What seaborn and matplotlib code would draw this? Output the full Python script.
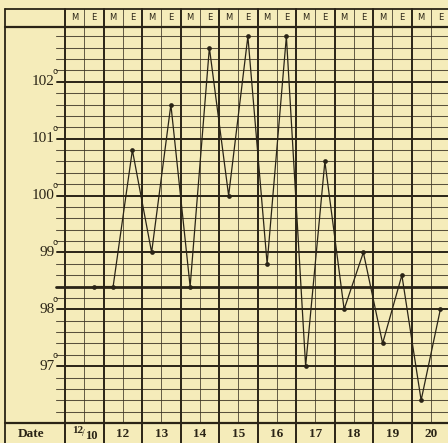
import numpy as np
import pandas as pd
import matplotlib
matplotlib.use("Agg")
import matplotlib.pyplot as plt
import seaborn as sns

# ---- data ----
days = ["12/10", "12", "13", "14", "15", "16", "17", "18", "19", "20"]
sessions = ["M", "E"]
# readings from the evening of 12/10 to the evening of the 20th
temps = [98.4, 98.4, 100.8, 99.0, 101.6, 98.4, 102.6, 100.0, 102.8, 98.8,
         102.8, 97.0, 100.6, 98.0, 99.0, 97.4, 98.6, 96.4, 98.0]
first_slot = 1
degree_labels = [97, 98, 99, 100, 101, 102]
normal_temp = 98.4
t_min, t_max = 96, 103

# ---- geometry (pixels -> data) ----
W, H = 448, 443
PX_X0, SLOT_W = 65, 19.25
PX_Y0, DEG_H = 25, 398 / 7.0

def dx(px):
    return (px - PX_X0) / SLOT_W

def dy(py):
    return t_max - (py - PX_Y0) / DEG_H

bg = "#F5ECBA"
ink = "#2A2416"
grid_c = "#3E3626"

sns.set_style("white")
plt.rcParams["font.family"] = ["Liberation Serif", "DejaVu Serif"]

fig = plt.figure(figsize=(W / 100, H / 100), dpi=100, facecolor=bg)
ax = fig.add_axes([0, 0, 1, 1])
ax.set_facecolor(bg)

n_slots = len(days) * len(sessions)
x_right = dx(W + 10)
y_head_top = dy(9)
y_date_bot = dy(H + 5)

# horizontal minor lines (every 0.2 degree)
for v in np.arange(t_min + 0.2, t_max - 0.1, 0.2):
    v = round(v, 1)
    if abs(v - round(v)) < 1e-6:
        ax.plot([dx(57), x_right], [v, v], color=ink, lw=1.4, zorder=2)
    else:
        ax.plot([dx(56), x_right], [v, v], color=grid_c, lw=0.75, alpha=0.85, zorder=1)

# normal line
ax.plot([dx(56), x_right], [normal_temp, normal_temp], color=ink, lw=2.0, zorder=3)

# borders of the plot area, header & date rows
ax.plot([dx(5), x_right], [dy(26.5), dy(26.5)], color=ink, lw=1.6, zorder=3)
ax.plot([dx(5), x_right], [t_min, t_min], color=ink, lw=1.6, zorder=3)
ax.plot([dx(5), x_right], [y_head_top, y_head_top], color=ink, lw=1.3, zorder=3)
ax.plot([dx(5), dx(5)], [y_head_top, y_date_bot], color=ink, lw=1.3, zorder=3)

# vertical lines
for s in range(0, n_slots + 1):
    if s % 2 == 0:
        ax.plot([s, s], [y_head_top, y_date_bot], color=ink, lw=1.4, zorder=3)
    else:
        ax.plot([s, s], [y_head_top, t_min], color=grid_c, lw=0.7, alpha=0.8, zorder=1)

# header letters
for i, d in enumerate(days):
    for j, sname in enumerate(sessions):
        ax.text(2 * i + j + 0.5, dy(17.5), sname, ha="center", va="center",
                fontsize=6, color=ink, family="DejaVu Sans")

# degree labels
for v in degree_labels:
    ax.text(dx(55), v, str(v), ha="right", va="center", fontsize=11, color=ink)
    ax.text(dx(55.5), v + 0.18, "o", ha="center", va="center", fontsize=6,
            color=ink, family="DejaVu Sans")

# date row
y_date = dy(434)
ax.text(dx(31), y_date, "Date", ha="center", va="center", fontsize=9.5,
        fontweight="bold", color=ink)
for i, d in enumerate(days):
    xc = 2 * i + 1
    if "/" in d:
        a, b = d.split("/")
        ax.text(xc - 0.35, y_date + 0.06, a, ha="center", va="center",
                fontsize=8, fontweight="bold", color=ink)
        ax.text(xc - 0.02, y_date, "/", ha="center", va="center",
                fontsize=7, color=ink)
        ax.text(xc + 0.35, y_date - 0.04, b, ha="center", va="center",
                fontsize=9, fontweight="bold", color=ink)
    else:
        ax.text(xc, y_date, d, ha="center", va="center", fontsize=9.5,
                fontweight="bold", color=ink)

# temperature curve
df = pd.DataFrame({
    "slot": np.arange(first_slot, first_slot + len(temps)) + 0.5,
    "temp": temps,
})
sns.lineplot(data=df, x="slot", y="temp", ax=ax, color=ink, lw=0.9,
             marker="o", markersize=3.4, markeredgewidth=0, zorder=5, sort=False)
ax.set_xlim(dx(0), dx(W))
ax.set_ylim(dy(H), dy(0))
ax.axis("off")

fig.savefig("out.png", dpi=100, facecolor=bg)
